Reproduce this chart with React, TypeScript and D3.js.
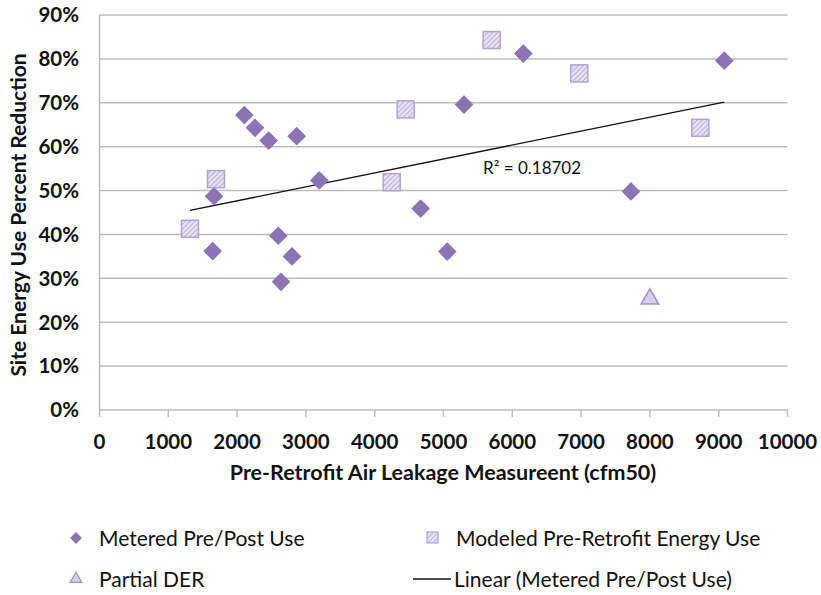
import React from "react";
import * as d3 from "d3";

const meteredX = [2105, 2260, 2459, 2866, 3195, 1664, 1645, 2599, 2798, 2638, 5298, 6160, 9081, 7725, 4668, 5055];
const meteredY = [67.2, 64.3, 61.4, 62.4, 52.3, 48.7, 36.2, 39.7, 35.0, 29.2, 69.6, 81.2, 79.6, 49.8, 45.9, 36.1];
const modeledX = [1315, 1693, 4247, 4450, 5700, 6974, 8733];
const modeledY = [41.3, 52.6, 51.9, 68.5, 84.3, 76.7, 64.3];
const partialX = [8000];
const partialY = [25.3];
const xTicks = [0, 1000, 2000, 3000, 4000, 5000, 6000, 7000, 8000, 9000, 10000];
const yTicks = [0, 10, 20, 30, 40, 50, 60, 70, 80, 90];
const r2Label = "R² = 0.18702";
const xTitle = "Pre-Retrofit Air Leakage Measureent (cfm50)";
const yTitle = "Site Energy Use Percent Reduction";
const legendLabels = ["Metered Pre/Post Use", "Modeled Pre-Retrofit Energy Use", "Partial DER", "Linear (Metered Pre/Post Use)"];

const W = 821, H = 595;
const FONT = "Lato, 'Open Sans', sans-serif";
const DIAMOND = "#8c74b4";
const SQ_STROKE = "#b2a3d4";
const TRI_FILL = "#d6cde7";
const TRI_STROKE = "#a392c9";
const GRID = "#bdbdbd";

export default function App() {
  const x = d3.scaleLinear().domain([0, 10000]).range([99.5, 787.5]);
  const y = d3.scaleLinear().domain([0, 90]).range([410, 15]);

  // linear regression of metered series
  const mx = d3.mean(meteredX)!;
  const my = d3.mean(meteredY)!;
  let sxy = 0, sxx = 0;
  meteredX.forEach((v, i) => { sxy += (v - mx) * (meteredY[i] - my); sxx += (v - mx) * (v - mx); });
  const slope = sxy / sxx;
  const icpt = my - slope * mx;
  const allX = [...meteredX, ...modeledX, ...partialX];
  const [x0, x1] = d3.extent(allX) as [number, number];
  const trend = d3.line<number>().x((d) => x(d)).y((d) => y(icpt + slope * d))([x0, x1])!;

  const diamond = d3.symbol().type(d3.symbolSquare).size(175)()!;
  const tri = d3.symbol().type(d3.symbolTriangle).size(135)()!;

  return (
    <svg width={W} height={H} style={{ position: "absolute", left: 0, top: 0, background: "#fff" }} fontFamily={FONT}>
      <defs>
        <pattern id="hatch" width="3.5" height="3.5" patternUnits="userSpaceOnUse" patternTransform="rotate(45)">
          <rect width="3.5" height="3.5" fill="#e6e0f0" />
          <line x1="0" y1="0" x2="0" y2="3.5" stroke="#a696cc" strokeWidth="1.2" />
        </pattern>
      </defs>
      {yTicks.map((t) => (
        <g key={t}>
          {t > 0 && <line x1={x(0)} x2={x(10000)} y1={y(t)} y2={y(t)} stroke={GRID} strokeWidth={1.5} />}
          <text x={79} y={y(t)} dy="0.36em" textAnchor="end" fontSize={20.5} fontWeight={700} fill="#111">{t}%</text>
        </g>
      ))}
      <line x1={x(0)} x2={x(0)} y1={y(0)} y2={y(90)} stroke={GRID} strokeWidth={1.5} />
      <line x1={x(0)} x2={x(10000)} y1={y(0)} y2={y(0)} stroke={GRID} strokeWidth={1.5} />
      {xTicks.map((t) => (
        <g key={t}>
          <line x1={x(t)} x2={x(t)} y1={y(0)} y2={y(0) + 7} stroke={GRID} strokeWidth={1.5} />
          <text x={x(t)} y={449} textAnchor="middle" fontSize={20.5} fontWeight={700} fill="#111">{t}</text>
        </g>
      ))}
      <text x={443} y={480} textAnchor="middle" fontSize={21.5} fontWeight={700} fill="#111">{xTitle}</text>
      <text transform={`translate(26,215) rotate(-90)`} textAnchor="middle" fontSize={21} fontWeight={700} fill="#111">{yTitle}</text>

      <path d={trend} stroke="#111" strokeWidth={1.3} fill="none" />
      <text x={483} y={174} fontSize={17} fill="#111">{r2Label}</text>

      {meteredX.map((v, i) => (
        <path key={"m" + i} d={diamond} transform={`translate(${x(v)},${y(meteredY[i])}) rotate(45)`} fill={DIAMOND} />
      ))}
      {modeledX.map((v, i) => (
        <rect key={"s" + i} x={x(v) - 8.5} y={y(modeledY[i]) - 8.5} width={17} height={17} fill="url(#hatch)" stroke={SQ_STROKE} strokeWidth={1.5} />
      ))}
      {partialX.map((v, i) => (
        <path key={"t" + i} d={tri} transform={`translate(${x(v)},${y(partialY[i])})`} fill={TRI_FILL} stroke={TRI_STROKE} strokeWidth={1.5} />
      ))}

      {/* legend */}
      <path d={d3.symbol().type(d3.symbolSquare).size(70)()!} transform="translate(76,538) rotate(45)" fill={DIAMOND} />
      <text x={99} y={546} fontSize={21} fill="#111">{legendLabels[0]}</text>
      <rect x={427} y={532} width={11} height={11} fill="url(#hatch)" stroke={SQ_STROKE} strokeWidth={1.2} />
      <text x={456} y={546} fontSize={21} fill="#111">{legendLabels[1]}</text>
      <path d={d3.symbol().type(d3.symbolTriangle).size(60)()!} transform="translate(76,579)" fill={TRI_FILL} stroke={TRI_STROKE} strokeWidth={1.2} />
      <text x={99} y={587} fontSize={21} fill="#111">{legendLabels[2]}</text>
      <line x1={413} x2={451} y1={579} y2={579} stroke="#111" strokeWidth={1.3} />
      <text x={454} y={587} fontSize={21} fill="#111">{legendLabels[3]}</text>
    </svg>
  );
}
